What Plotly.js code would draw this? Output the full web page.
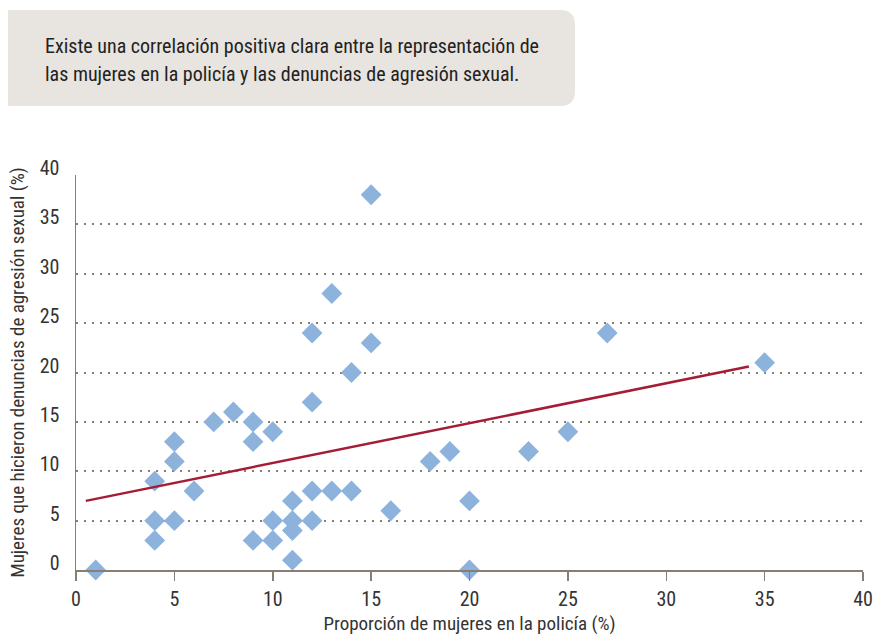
<!DOCTYPE html>
<html>
<head>
<meta charset="utf-8">
<script src="https://cdn.plot.ly/plotly-3.0.1.min.js"></script>
<style>
html,body{margin:0;padding:0;background:#fff;}
#chart{width:888px;height:641px;}
</style>
</head>
<body>
<div id="chart"></div>
<script>
// Data
var policeShare = [1, 4, 4, 4, 5, 5, 5, 6, 7, 8, 9, 9, 9, 10, 10, 10, 11, 11, 11, 11,
                   12, 12, 12, 12, 13, 13, 14, 14, 15, 15, 16, 18, 19, 20, 20, 23, 25, 27, 35];
var reportShare = [0, 9, 5, 3, 13, 11, 5, 8, 15, 16, 15, 13, 3, 14, 5, 3, 7, 5, 4, 1,
                   24, 17, 8, 5, 28, 8, 20, 8, 38, 23, 6, 11, 12, 7, 0, 12, 14, 24, 21];
var trendX = [0.5, 34.2];
var trendY = [7.0, 20.6];
var tickVals = [0, 5, 10, 15, 20, 25, 30, 35, 40];
var noteLines = [
  "Existe una correlación positiva clara entre la representación de",
  "las mujeres en la policía y las denuncias de agresión sexual."
];
var xTitle = "Proporción de mujeres en la policía (%)";
var yTitle = "Mujeres que hicieron denuncias de agresión sexual (%)";

var FONT = "'Liberation Sans Narrow', 'Arial Narrow', 'Roboto Condensed', 'Liberation Sans', sans-serif";

// plot area geometry (pixels) used to place the note box in paper coordinates
var W = 888, H = 641, mL = 76, mR = 25, mT = 175, mB = 71;
var pw = W - mL - mR, ph = H - mT - mB;
function px(x){ return (x - mL) / pw; }
function py(y){ return (H - mB - y) / ph; }

var bx0 = 8, bx1 = 575, by0 = 10, by1 = 106, r = 15;
var boxPath = "M " + px(bx0) + "," + py(by0) +
  " L " + px(bx1 - r) + "," + py(by0) +
  " Q " + px(bx1) + "," + py(by0) + " " + px(bx1) + "," + py(by0 + r) +
  " L " + px(bx1) + "," + py(by1 - r) +
  " Q " + px(bx1) + "," + py(by1) + " " + px(bx1 - r) + "," + py(by1) +
  " L " + px(bx0) + "," + py(by1) + " Z";

var traces = [
  {
    x: policeShare, y: reportShare, type: "scatter", mode: "markers",
    marker: {symbol: "diamond", size: 16, color: "#8db3dd", line: {width: 0}},
    cliponaxis: false, hoverinfo: "x+y"
  },
  {
    x: trendX, y: trendY, type: "scatter", mode: "lines",
    line: {color: "#a51c36", width: 2.5}, hoverinfo: "skip"
  }
];

var axisColor = "#8a7d72";
var layout = {
  width: W, height: H, autosize: false,
  margin: {l: mL, r: mR, t: mT, b: mB, pad: 0},
  paper_bgcolor: "#ffffff", plot_bgcolor: "#ffffff",
  showlegend: false,
  font: {family: FONT, size: 19, color: "#333333"},
  xaxis: {
    range: [0, 40], tickvals: tickVals, ticktext: tickVals.map(String),
    showgrid: false, zeroline: false,
    showline: true, linecolor: axisColor, linewidth: 1.5,
    ticks: "outside", ticklen: 9, tickwidth: 1.5, tickcolor: axisColor,
    tickfont: {family: FONT, size: 20, color: "#333333"},
    ticklabelstandoff: 1,
    title: {text: xTitle, font: {family: FONT, size: 19, color: "#333333"}, standoff: 7}
  },
  yaxis: {
    range: [0, 40], tickvals: tickVals, ticktext: tickVals.map(String),
    showgrid: true, gridcolor: axisColor, gridwidth: 2, griddash: "2px,6px",
    zeroline: false,
    showline: true, linecolor: axisColor, linewidth: 1.5,
    ticks: "", tickfont: {family: FONT, size: 20, color: "#333333"},
    ticklabelstandoff: 11, ticklabelshift: -7,
    title: {text: yTitle, font: {family: FONT, size: 19, color: "#333333"}, standoff: 10}
  },
  shapes: [
    {type: "path", xref: "paper", yref: "paper", path: boxPath,
     fillcolor: "#e8e4df", line: {width: 0}, layer: "below"}
  ],
  annotations: [
    {xref: "paper", yref: "paper", x: px(43), y: py(46), xanchor: "left", yanchor: "middle",
     text: noteLines[0], showarrow: false, font: {family: FONT, size: 20, color: "#222222"}},
    {xref: "paper", yref: "paper", x: px(43), y: py(74), xanchor: "left", yanchor: "middle",
     text: noteLines[1], showarrow: false, font: {family: FONT, size: 20, color: "#222222"}}
  ]
};

Plotly.newPlot("chart", traces, layout, {displayModeBar: false, staticPlot: true});
</script>
</body>
</html>
